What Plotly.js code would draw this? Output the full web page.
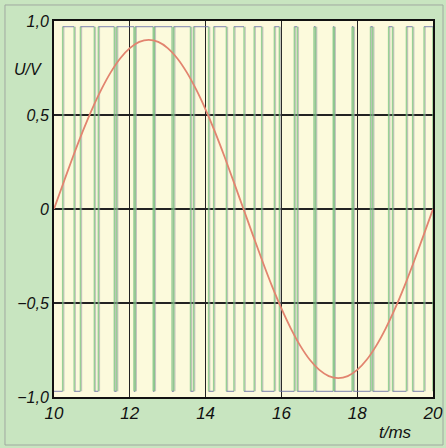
<!DOCTYPE html>
<html>
<head>
<meta charset="utf-8">
<script src="https://cdn.plot.ly/plotly-3.0.1.min.js"></script>
<style>html,body{margin:0;padding:0;background:#c8e5c0;}#chart{width:446px;height:448px;}</style>
</head>
<body>
<div id="chart"></div>
<script>
// Sine (red): t in ms, U in V
const sineT = [10,10.25,10.5,10.75,11,11.25,11.5,11.75,12,12.25,12.5,12.75,13,13.25,13.5,13.75,14,14.25,14.5,14.75,15,
               15.25,15.5,15.75,16,16.25,16.5,16.75,17,17.25,17.5,17.75,18,18.25,18.5,18.75,19,19.25,19.5,19.75,20];
const sineU = [0,0.14,0.278,0.409,0.529,0.636,0.728,0.802,0.856,0.889,0.9,0.889,0.856,0.802,0.728,0.636,0.529,0.409,0.278,0.14,0,
               -0.14,-0.278,-0.409,-0.529,-0.636,-0.728,-0.802,-0.856,-0.889,-0.9,-0.889,-0.856,-0.802,-0.728,-0.636,-0.529,-0.409,-0.278,-0.14,0];
// PWM (green) edges: rising and falling times in ms
const pwmRise = [10.228,10.696,11.169,11.651,12.143,12.646,13.159,13.682,14.212,14.747,15.282,15.814,16.341,16.859,17.367,17.864,18.351,18.828,19.298,19.764];
const pwmFall = [10.532,11.064,11.591,12.109,12.617,13.114,13.601,14.078,14.548,15.014,15.478,15.946,16.419,16.901,17.393,17.896,18.409,18.932,19.462,19.997];
const pwmHigh = 0.97, pwmLow = -0.97;
const yTickVals = [-1,-0.5,0,0.5,1];
const yTickText = ["\u22121,0","\u22120,5","0","0,5","1,0"];
const xTickVals = [10,12,14,16,18,20];
const xTickText = ["10","12","14","16","18","20"];

// build PWM segments
const vx=[],vy=[],hx=[],hy=[];
let prev = 10;
for (let i=0;i<pwmRise.length;i++){
  const r=pwmRise[i], f=pwmFall[i];
  hx.push(prev, r, null); hy.push(pwmLow, pwmLow, null);
  hx.push(r, f, null); hy.push(pwmHigh, pwmHigh, null);
  vx.push(r, r, null); vy.push(pwmLow, pwmHigh, null);
  vx.push(f, f, null); vy.push(pwmHigh, pwmLow, null);
  prev = f;
}
hx.push(prev, 20, null); hy.push(pwmLow, pwmLow, null);

const font = {family:"Liberation Sans, Arial, sans-serif", size:16, color:"#111"};
const data = [
  {x:vx.map(v=>v===null?null:v+0.03), y:vy, mode:"lines", line:{color:"rgba(160,160,170,0.6)", width:1.3}, hoverinfo:"skip"},
  {x:vx, y:vy, mode:"lines", line:{color:"rgba(120,195,125,0.75)", width:1.4}, hoverinfo:"skip"},
  {x:hx, y:hy, mode:"lines", line:{color:"rgba(110,115,170,0.75)", width:1.2}, hoverinfo:"skip"},
  {x:sineT, y:sineU, mode:"lines", line:{color:"#e2846f", width:1.8, shape:"spline"}, hoverinfo:"skip"}
];
const layout = {
  width:446, height:448,
  margin:{l:54, r:13, t:21, b:51},
  paper_bgcolor:"#c8e5c0",
  plot_bgcolor:"#fcfadc",
  showlegend:false,
  font: font,
  xaxis:{range:[10,20], tickvals:xTickVals, ticktext:xTickText, showgrid:true, gridcolor:"#222", gridwidth:1.3,
         zeroline:false, showline:true, mirror:true, linecolor:"#111", linewidth:2, ticks:"",
         tickfont:{family:font.family, size:17, color:"#111", style:"italic"}, fixedrange:true},
  yaxis:{range:[-1,1], tickvals:yTickVals, ticktext:yTickText, showgrid:true, gridcolor:"#222", gridwidth:1.3,
         zeroline:false, showline:true, mirror:true, linecolor:"#111", linewidth:2, ticks:"",
         tickfont:{family:font.family, size:16, color:"#111", style:"italic"}, fixedrange:true},
  annotations:[
    {text:"U/V", xref:"paper", yref:"paper", x:-0.068, y:0.87, showarrow:false, xanchor:"center", yanchor:"middle",
     font:{family:font.family, size:16, color:"#111", style:"italic"}},
    {text:"t/ms", xref:"paper", yref:"paper", x:0.9, y:-0.095, showarrow:false, xanchor:"center", yanchor:"middle",
     font:{family:font.family, size:17, color:"#111", style:"italic"}}
  ],
  shapes:[
    {type:"rect", xref:"paper", yref:"paper", x0:-0.1293, x1:1.0264, y0:-0.1277, y1:1.0426,
     line:{color:"#a0a8a0", width:1}, layer:"below"}
  ]
};
Plotly.newPlot("chart", data, layout, {displayModeBar:false, staticPlot:true});
</script>
</body>
</html>
